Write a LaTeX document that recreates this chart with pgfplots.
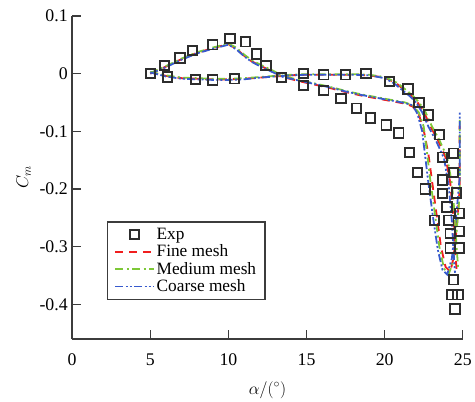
\documentclass[border=0pt]{standalone}
\usepackage{pgfplots}
\pgfplotsset{compat=1.18}
\usepackage{fontspec}
\setmainfont{Liberation Serif}

\definecolor{expc}{RGB}{45,45,45}
\definecolor{finec}{RGB}{240,30,30}
\definecolor{medc}{RGB}{125,200,55}
\definecolor{coarsec}{RGB}{55,90,205}
\definecolor{axc}{RGB}{60,60,60}

% Experimental pitching-moment data
\pgfplotstableread{
a cm
5.0 0.000
5.9 0.014
6.9 0.027
7.7 0.040
9.0 0.050
10.1 0.061
11.1 0.055
11.8 0.034
12.4 0.014
6.1 -0.006
7.9 -0.010
9.0 -0.011
10.4 -0.009
13.4 -0.007
14.8 0.000
14.8 -0.021
16.1 -0.002
16.1 -0.029
17.5 -0.002
17.2 -0.043
18.8 0.000
18.2 -0.060
20.3 -0.014
19.1 -0.077
20.1 -0.089
20.9 -0.103
21.5 -0.027
22.2 -0.050
21.6 -0.137
22.8 -0.072
23.5 -0.106
22.1 -0.171
23.7 -0.145
24.4 -0.138
24.4 -0.171
22.6 -0.200
23.7 -0.184
23.7 -0.208
24.6 -0.207
24.0 -0.231
24.8 -0.242
23.2 -0.254
24.1 -0.254
24.8 -0.273
24.2 -0.277
24.8 -0.302
24.2 -0.302
24.4 -0.357
24.3 -0.383
24.7 -0.383
24.5 -0.408
}\expdata

% Fine mesh: pitch-up branch and flat branch
\pgfplotstableread{
a cm
5.0 0.000
6.0 0.012
7.0 0.025
8.0 0.036
9.0 0.044
10.0 0.051
10.5 0.043
11.0 0.031
11.5 0.021
12.0 0.014
12.7 0.005
13.5 -0.006
14.5 -0.013
15.5 -0.019
16.5 -0.025
17.5 -0.032
18.5 -0.038
19.5 -0.043
20.5 -0.048
21.3 -0.052
21.8 -0.057
22.2 -0.072
22.5 -0.098
22.8 -0.140
23.0 -0.180
23.3 -0.240
23.6 -0.300
23.9 -0.335
24.2 -0.343
24.4 -0.320
24.6 -0.270
24.8 -0.200
24.8 -0.090
}\fineA
\pgfplotstableread{
a cm
5.0 0.002
6.0 -0.004
7.0 -0.008
8.0 -0.009
9.0 -0.010
10.0 -0.010
11.0 -0.009
12.0 -0.007
13.0 -0.005
14.0 -0.003
15.0 -0.002
16.0 -0.002
17.0 -0.002
18.0 -0.002
19.0 -0.003
20.0 -0.007
20.7 -0.016
21.2 -0.027
21.7 -0.038
22.1 -0.050
22.5 -0.066
22.9 -0.090
23.4 -0.115
23.9 -0.145
24.2 -0.190
24.4 -0.250
24.5 -0.300
24.6 -0.340
}\fineB

% Medium mesh
\pgfplotstableread{
a cm
5.0 0.001
6.0 0.013
7.0 0.026
8.0 0.037
9.0 0.045
10.0 0.052
10.5 0.045
11.0 0.033
11.5 0.023
12.0 0.016
12.7 0.007
13.5 -0.004
14.5 -0.011
15.5 -0.017
16.5 -0.023
17.5 -0.030
18.5 -0.036
19.5 -0.041
20.5 -0.046
21.3 -0.050
21.8 -0.055
22.2 -0.068
22.5 -0.092
22.7 -0.135
22.9 -0.180
23.2 -0.240
23.5 -0.300
23.8 -0.338
24.1 -0.347
24.4 -0.325
24.6 -0.275
24.8 -0.210
24.8 -0.080
}\medA
\pgfplotstableread{
a cm
5.0 0.003
6.0 -0.003
7.0 -0.007
8.0 -0.008
9.0 -0.009
10.0 -0.009
11.0 -0.008
12.0 -0.006
13.0 -0.004
14.0 -0.002
15.0 -0.001
16.0 -0.001
17.0 -0.001
18.0 -0.001
19.0 -0.002
20.0 -0.006
20.8 -0.016
21.3 -0.027
21.8 -0.038
22.2 -0.050
22.6 -0.066
23.0 -0.090
23.5 -0.115
24.0 -0.145
24.3 -0.190
24.5 -0.250
24.6 -0.300
24.7 -0.335
}\medB

% Coarse mesh
\pgfplotstableread{
a cm
5.0 0.000
6.0 0.011
7.0 0.024
8.0 0.035
9.0 0.043
10.0 0.050
10.5 0.042
11.0 0.030
11.5 0.020
12.0 0.013
12.7 0.004
13.5 -0.006
14.5 -0.012
15.5 -0.018
16.5 -0.024
17.5 -0.031
18.5 -0.037
19.5 -0.042
20.5 -0.047
21.3 -0.051
21.8 -0.055
22.1 -0.070
22.4 -0.100
22.6 -0.145
22.8 -0.190
23.1 -0.250
23.4 -0.305
23.7 -0.340
24.0 -0.348
24.3 -0.320
24.5 -0.270
24.8 -0.180
24.8 -0.065
}\coarseA
\pgfplotstableread{
a cm
5.0 0.002
6.0 -0.005
7.0 -0.009
8.0 -0.010
9.0 -0.011
10.0 -0.011
11.0 -0.010
12.0 -0.007
13.0 -0.005
14.0 -0.003
15.0 -0.002
16.0 -0.002
17.0 -0.002
18.0 -0.002
19.0 -0.003
20.0 -0.008
20.6 -0.017
21.1 -0.028
21.6 -0.039
22.0 -0.050
22.4 -0.067
22.8 -0.092
23.3 -0.117
23.8 -0.147
24.1 -0.195
24.3 -0.255
24.4 -0.305
24.5 -0.345
}\coarseB

\tikzset{
  finestyle/.style={finec, line width=1.9pt, dash pattern=on 8pt off 6pt},
  medstyle/.style={medc, line width=1.8pt, dash pattern=on 8pt off 3.5pt on 2pt off 3.5pt},
  coarsestyle/.style={coarsec, line width=1.8pt, dash pattern=on 8pt off 2.5pt on 2pt off 2pt on 2pt off 2.5pt},
}

\begin{document}
\begin{tikzpicture}
\begin{axis}[
  scale only axis,
  width=395pt, height=327pt,
  xmin=0, xmax=25,
  ymin=-0.46, ymax=0.1,
  axis x line*=bottom,
  axis y line*=left,
  axis line style={axc, line width=1.4pt},
  every tick/.style={axc, line width=1.4pt},
  tick align=inside,
  major tick length=9pt,
  xtick={0,5,...,25},
  ytick={-0.4,-0.3,-0.2,-0.1,0,0.1},
  yticklabels={-0.4,-0.3,-0.2,-0.1,0,0.1},
  tick label style={font=\fontsize{18pt}{20pt}\selectfont},
  xticklabel style={yshift=-11pt},
  yticklabel style={xshift=-1pt},
  /pgf/number format/assume math mode=true,
  xlabel={$\alpha/(^{\circ})$},
  ylabel={$C_m$},
  label style={font=\fontsize{18pt}{20pt}\selectfont},
  xlabel style={yshift=-9pt},
  ylabel style={yshift=2pt},
  legend style={at={(0.089,0.364)}, anchor=north west,
    draw=axc, line width=1.3pt, font=\fontsize{17.5pt}{17.5pt}\selectfont,
    inner xsep=7pt, inner ysep=4pt, row sep=0pt},
  legend cell align=left,
  legend image code/.code={%
    \draw[mark repeat=2, mark phase=2, #1]
      plot coordinates {(0cm,0cm) (0.68cm,0cm) (1.36cm,0cm)};},
  clip=false,
]
\addplot[only marks, mark=square, mark size=4.8pt,
  mark options={expc, line width=1.9pt, rounded corners=1.2pt}]
  table[x=a, y=cm] {\expdata};
\addlegendentry{Exp}

\addplot[finestyle] table[x=a, y=cm] {\fineA};
\addlegendentry{Fine mesh}
\addplot[medstyle] table[x=a, y=cm] {\medA};
\addlegendentry{Medium mesh}
\addplot[coarsestyle] table[x=a, y=cm] {\coarseA};
\addlegendentry{Coarse mesh}

\addplot[finestyle, forget plot] table[x=a, y=cm] {\fineB};
\addplot[medstyle, forget plot] table[x=a, y=cm] {\medB};
\addplot[coarsestyle, forget plot] table[x=a, y=cm] {\coarseB};
\end{axis}
\path ([xshift=-73pt, yshift=-55pt]current axis.south west)
  rectangle ([xshift=7pt, yshift=16pt]current axis.north east);
\end{tikzpicture}
\end{document}
